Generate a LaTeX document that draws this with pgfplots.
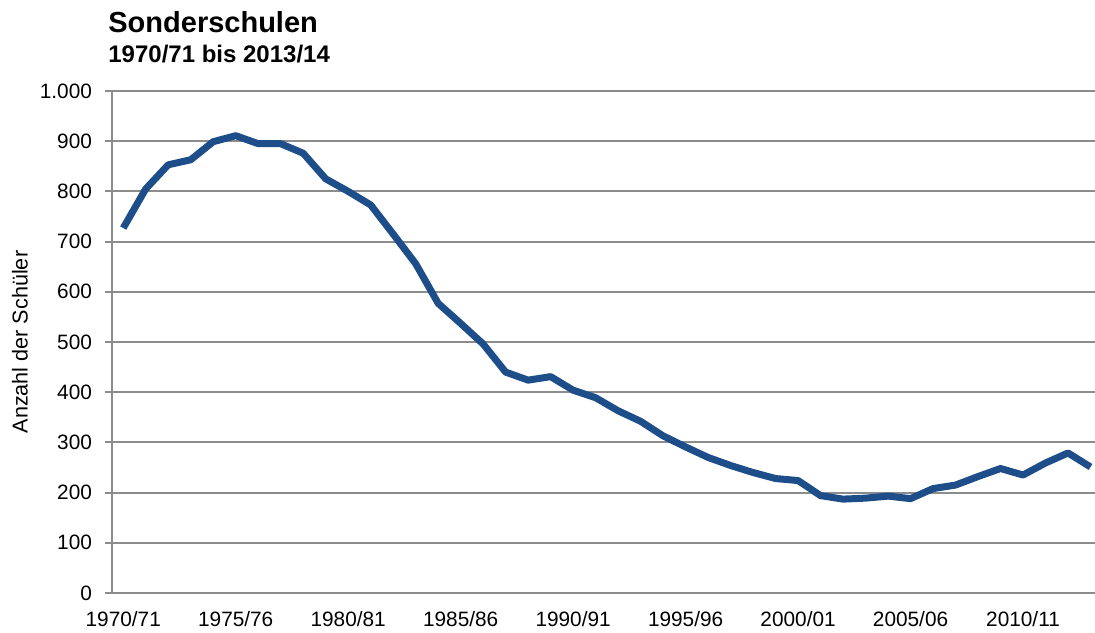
\documentclass[border=0pt]{standalone}
\usepackage{fontspec}
\setmainfont{Liberation Sans}
\usepackage{pgfplots}
\pgfplotsset{compat=1.18}
\definecolor{linie}{RGB}{30,78,138}
\definecolor{gitter}{RGB}{140,140,140}

\pgfplotstableread{
i  schueler
0  727
1  805
2  853
3  863
4  899
5  911
6  895
7  895
8  876
9  825
10 800
11 773
12 715
13 656
14 577
15 537
16 496
17 440
18 424
19 431
20 404
21 389
22 363
23 342
24 313
25 291
26 270
27 254
28 240
29 228
30 224
31 194
32 187
33 189
34 193
35 188
36 208
37 215
38 232
39 248
40 235
41 259
42 279
43 251
}\sonderschulen

\begin{document}
\begin{tikzpicture}
\useasboundingbox (-56pt,-19.5pt) rectangle (491.5pt,296.5pt);
\begin{axis}[
  at={(0,0)}, anchor=south west,
  scale only axis, width=491.5pt, height=251pt,
  xmin=-0.5, xmax=43.2, ymin=0, ymax=1000,
  axis lines*=left,
  axis line style={gitter, line width=1pt},
  ytick={0,100,...,1000},
  ymajorgrids,
  grid style={gitter, line width=1pt},
  xtick={0,5,...,40},
  xticklabels={1970/71,1975/76,1980/81,1985/86,1990/91,1995/96,2000/01,2005/06,2010/11},
  tick align=outside,
  major tick length=3.5pt,
  xtick style={draw=none},
  ytick style={gitter, line width=1pt},
  ticklabel style={font=\fontsize{10.4}{12}\selectfont},
  /pgf/number format/assume math mode=true,
  yticklabel style={/pgf/number format/1000 sep={.}, xshift=-3pt},
  xticklabel style={yshift=-2pt},
  ylabel={Anzahl der Schüler},
  ylabel style={at={(axis description cs:-0.0936,0.5)}, anchor=center, font=\fontsize{10.8}{12}\selectfont},
]
\addplot[linie, line width=3.5pt, line join=round] table[x=i, y=schueler] {\sonderschulen};
\end{axis}
\node[anchor=base west, font=\bfseries\fontsize{14.5}{17}\selectfont, inner sep=0pt] at (-2pt,280pt) {Sonderschulen};
\node[anchor=base west, font=\bfseries\fontsize{12}{14}\selectfont, inner sep=0pt] at (-2pt,265pt) {1970/71 bis 2013/14};
\end{tikzpicture}
\end{document}
